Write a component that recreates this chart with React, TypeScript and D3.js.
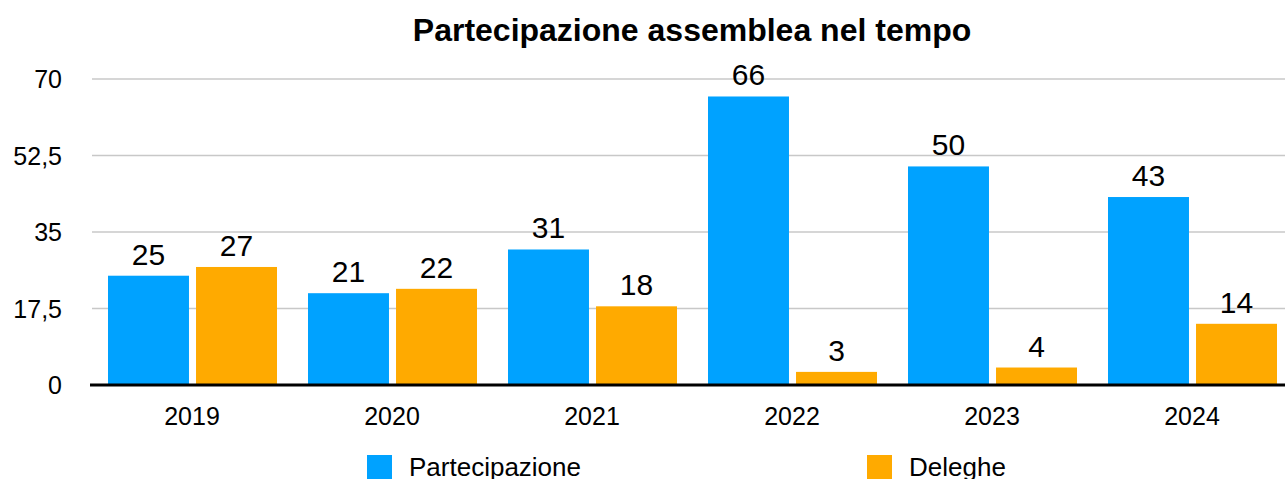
import React from "react";
import * as d3 from "d3";

const categories = ["2019", "2020", "2021", "2022", "2023", "2024"];
const partecipazione = [25, 21, 31, 66, 50, 43];
const deleghe = [27, 22, 18, 3, 4, 14];
const yTicks = [0, 17.5, 35, 52.5, 70];
const seriesNames = ["Partecipazione", "Deleghe"];
const colors = ["#00A2FF", "#FFAA00"];
const title = "Partecipazione assemblea nel tempo";

const W = 1285;
const H = 479;
const left = 92;
const right = 1292;
const top = 79;
const bottom = 385;
const font = "'Liberation Sans', Arial, Helvetica, sans-serif";

export default function App() {
  const x = d3.scaleBand<string>().domain(categories).range([left, right]).paddingInner(0).paddingOuter(0);
  const inner = d3
    .scaleBand<string>()
    .domain(seriesNames)
    .range([16, 185])
    .paddingInner(0.08);
  const y = d3.scaleLinear().domain([0, 70]).range([bottom, top]);
  const series = [partecipazione, deleghe];
  const fmt = (v: number) => String(v).replace(".", ",");

  return (
    <svg
      width={W}
      height={H}
      style={{ position: "absolute", left: 0, top: 0, background: "#fff" }}
      fontFamily={font}
    >
      <rect width={W} height={H} fill="#fff" />
      <text x={692} y={41} textAnchor="middle" fontSize={32} fontWeight="bold" fill="#000">
        {title}
      </text>
      {yTicks.map((t) => (
        <g key={t}>
          {t !== 0 && (
            <line x1={left} x2={W} y1={y(t)} y2={y(t)} stroke="#c8c8c8" strokeWidth={1.5} />
          )}
          <text x={62} y={y(t)} dy="0.36em" textAnchor="end" fontSize={25} fill="#000">
            {fmt(t)}
          </text>
        </g>
      ))}
      {categories.map((c, i) => (
        <g key={c}>
          {series.map((s, j) => {
            const bx = (x(c) as number) + (inner(seriesNames[j]) as number);
            const bw = inner.bandwidth();
            return (
              <g key={j}>
                <rect x={bx} y={y(s[i])} width={bw} height={bottom - y(s[i])} fill={colors[j]} />
                <text
                  x={bx + bw / 2}
                  y={y(s[i]) - 11}
                  textAnchor="middle"
                  fontSize={30}
                  fill="#000"
                >
                  {s[i]}
                </text>
              </g>
            );
          })}
          <text
            x={(x(c) as number) + x.bandwidth() / 2}
            y={425}
            textAnchor="middle"
            fontSize={25}
            fill="#000"
          >
            {c}
          </text>
        </g>
      ))}
      <line x1={90} x2={W} y1={bottom} y2={bottom} stroke="#000" strokeWidth={3} />
      {seriesNames.map((n, j) => {
        const lx = j === 0 ? 367 : 867;
        return (
          <g key={n}>
            <rect x={lx} y={455} width={25} height={25} fill={colors[j]} />
            <text x={lx + 42} y={476} fontSize={26} fill="#000">
              {n}
            </text>
          </g>
        );
      })}
    </svg>
  );
}
